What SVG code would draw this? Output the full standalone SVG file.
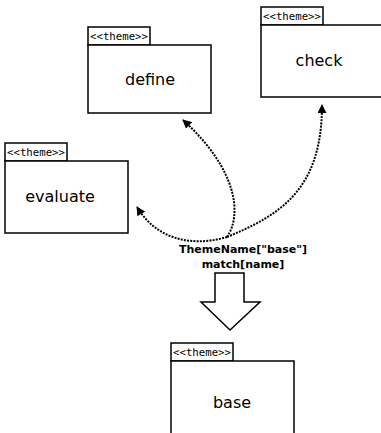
<svg xmlns="http://www.w3.org/2000/svg" width="381" height="433" viewBox="0 0 381 433">
  <style>
    .box { fill: #ffffff; stroke: #000000; stroke-width: 1.5; }
    .stereo { font-family: "DejaVu Sans Mono", monospace; font-size: 10px; fill: #000000; }
    .name { font-family: "DejaVu Sans", sans-serif; font-size: 16px; fill: #000000; text-anchor: middle; }
    .label { font-family: "DejaVu Sans", sans-serif; font-size: 11px; font-weight: bold; fill: #000000; text-anchor: middle; }
    .dep { fill: none; stroke: #000000; stroke-width: 2; stroke-dasharray: 2 1.2; marker-end: url(#head); }
  </style>
  <defs>
    <marker id="head" viewBox="0 0 10 10" refX="9" refY="5" markerWidth="9" markerHeight="9" markerUnits="userSpaceOnUse" orient="auto">
      <path d="M0,0 L10,5 L0,10 Z" fill="#000000"/>
    </marker>
  </defs>
  <rect width="381" height="433" fill="#ffffff"/>

  <g id="define">
    <rect class="box" x="88" y="27" width="62" height="18"/>
    <rect class="box" x="88" y="45" width="123" height="68"/>
    <text class="stereo" x="90" y="40" textLength="58" lengthAdjust="spacingAndGlyphs">&lt;&lt;theme&gt;&gt;</text>
    <text class="name" x="150" y="85">define</text>
  </g>

  <g id="check">
    <rect class="box" x="261" y="7" width="62" height="18"/>
    <rect class="box" x="261" y="25" width="124" height="72"/>
    <text class="stereo" x="263" y="20" textLength="58" lengthAdjust="spacingAndGlyphs">&lt;&lt;theme&gt;&gt;</text>
    <text class="name" x="319" y="66">check</text>
  </g>

  <g id="evaluate">
    <rect class="box" x="5" y="143" width="62" height="18"/>
    <rect class="box" x="5" y="161" width="123" height="72"/>
    <text class="stereo" x="7" y="156" textLength="58" lengthAdjust="spacingAndGlyphs">&lt;&lt;theme&gt;&gt;</text>
    <text class="name" x="60" y="202">evaluate</text>
  </g>

  <g id="base">
    <rect class="box" x="171" y="343" width="62" height="18"/>
    <rect class="box" x="171" y="361" width="123" height="80"/>
    <text class="stereo" x="173" y="356" textLength="58" lengthAdjust="spacingAndGlyphs">&lt;&lt;theme&gt;&gt;</text>
    <text class="name" x="232" y="408">base</text>
  </g>

  <g id="connectors">
    <path class="dep" d="M227,237 C242,215 238,170 183,120"/>
    <path class="dep" d="M227,237 C280,215 322,190 322,105"/>
    <path class="dep" d="M227,237 C200,245 160,245 137,207"/>
    <text class="label" x="243" y="253">ThemeName["base"]</text>
    <text class="label" x="243" y="268">match[name]</text>
    <polygon class="box" points="215,273 244,273 244,302 260,302 230,330 201,302 215,302"/>
  </g>
</svg>
